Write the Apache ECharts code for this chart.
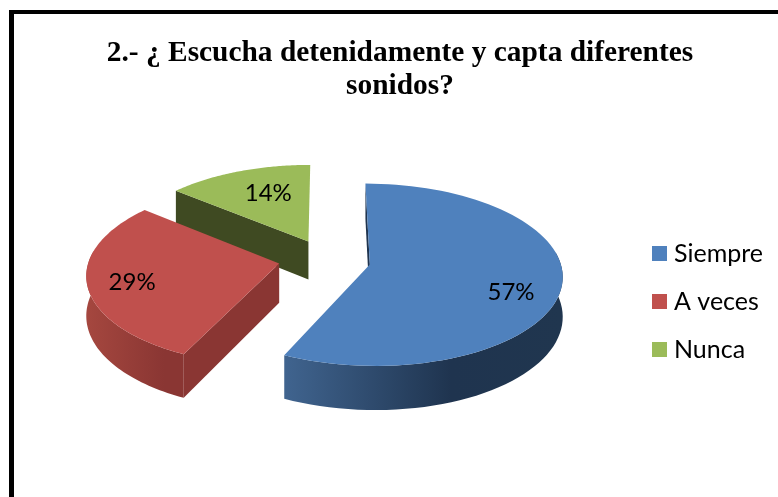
<!DOCTYPE html>
<html>
<head>
<meta charset="utf-8">
<style>html,body{margin:0;padding:0;background:#fff}#chart{width:778px;height:497px}</style>
<script src="https://cdn.jsdelivr.net/npm/echarts@6/dist/echarts.min.js"></script>
</head>
<body>
<div id="chart"></div>
<script>
// Answers to question 2, in percent
const categories = ['Siempre', 'A veces', 'Nunca'];
const percentages = [57, 29, 14];
const chartTitle = '2.- ¿ Escucha detenidamente y capta diferentes\nsonidos?';

// Appearance of each slice: top face, rim gradient, cut wall
const topColors = ['#4f81bd', '#c0504d', '#9bbb59'];
const rimStops = [
  [[0, '#40648f'], [0.6, '#1f344f'], [1, '#20364f']],
  [[0, '#a5473f'], [0.8, '#8a3633'], [1, '#8a3633']],
  [[0, '#3f4a22'], [1, '#3f4a22']]
];
const wallColors = ['#1f344f', '#8a3633', '#3f4a22'];
const labelShift = [[-4, 12], [6, 3], [5, -3]];
const labelRadius = [0.76, 0.8, 0.62];
const sliceNudge = [[3, -1], [0, -2], [4, -1]];

// Projection of the tilted pie
const CX = 323, CY = 261, RX = 190, RY = 89, DEPTH = 39, PERSPECTIVE = 0.111;
const EXPLODE = 0.235, START_DEG = 0;

function project(X, Y, Z) {
  const s = 1 / (1 - PERSPECTIVE * Y);
  return [CX + RX * X * s, CY + RY * Y * s + Z * DEPTH * s];
}

const total = percentages.reduce((a, b) => a + b, 0);

function sliceAngles(index) {
  let before = 0;
  for (let i = 0; i < index; i++) before += percentages[i];
  const a0 = START_DEG + before / total * 360;
  const a1 = a0 + percentages[index] / total * 360;
  return [a0 * Math.PI / 180, a1 * Math.PI / 180];
}

function renderSlice(index) {
  const [a0, a1] = sliceAngles(index);
  const mid = (a0 + a1) / 2;
  const ox = EXPLODE * Math.sin(mid), oy = -EXPLODE * Math.cos(mid);
  const [nx, ny] = sliceNudge[index];
  const at = (X, Y, Z) => {
    const p = project(X, Y, Z);
    return [p[0] + nx, p[1] + ny];
  };
  const rimPoint = (a, z) => at(ox + Math.sin(a), oy - Math.cos(a), z);
  const steps = 80;
  const topArc = [], frontTop = [], frontLow = [];
  for (let i = 0; i <= steps; i++) {
    const a = a0 + (a1 - a0) * i / steps;
    topArc.push(rimPoint(a, 0));
    // Only the part of the rim that faces the viewer gets a wall
    if (-Math.cos(a) > -0.15) {
      frontTop.push(rimPoint(a, 0));
      frontLow.push(rimPoint(a, 1));
    }
  }
  const apexTop = at(ox, oy, 0), apexLow = at(ox, oy, 1);
  const polygon = (points, fill) => ({
    type: 'polygon', shape: { points }, style: { fill, stroke: null }
  });
  const children = [
    polygon([apexTop, topArc[0], rimPoint(a0, 1), apexLow], wallColors[index])
  ];
  if (frontTop.length > 1) {
    const xs = frontTop.map(p => p[0]);
    const rimFill = new echarts.graphic.LinearGradient(Math.min(...xs), 0, Math.max(...xs), 0,
      rimStops[index].map(s => ({ offset: s[0], color: s[1] })), true);
    children.push(polygon(frontTop.concat(frontLow.slice().reverse()), rimFill));
  }
  const labelAt = at(ox + labelRadius[index] * Math.sin(mid), oy - labelRadius[index] * Math.cos(mid), 0);
  children.push(polygon([apexTop].concat(topArc), topColors[index]), {
    type: 'text',
    style: {
      text: percentages[index] + '%',
      x: labelAt[0] + labelShift[index][0],
      y: labelAt[1] + labelShift[index][1],
      align: 'center', verticalAlign: 'middle',
      font: '24px Lato', fill: '#000'
    }
  });
  return { type: 'group', children };
}

const chart = echarts.init(document.getElementById('chart'), null, { renderer: 'canvas' });
chart.setOption({
  animation: false,
  backgroundColor: '#fff',
  title: {
    text: chartTitle, left: 395, top: 32, textAlign: 'center',
    textStyle: { fontFamily: 'Liberation Serif', fontWeight: 'bold', fontSize: 29.4, lineHeight: 33, color: '#000' }
  },
  legend: {
    orient: 'vertical', left: 647, top: 236,
    itemWidth: 15, itemHeight: 15, itemGap: 23,
    icon: 'rect', selectedMode: false,
    data: categories,
    textStyle: { fontFamily: 'Lato', fontSize: 25, color: '#000', padding: [0, 0, 0, 2] },
    formatter: n => n
  },
  graphic: [
    { type: 'rect', shape: { x: 9, y: 10, width: 769, height: 4 }, style: { fill: '#000' } },
    { type: 'rect', shape: { x: 9, y: 10, width: 5, height: 487 }, style: { fill: '#000' } }
  ],
  series: categories.map((name, i) => ({
    type: 'custom',
    name,
    coordinateSystem: 'none',
    z: 5 - i,
    silent: true,
    itemStyle: { color: topColors[i] },
    data: [percentages[i]],
    renderItem: () => renderSlice(i)
  }))
});
</script>
</body>
</html>
